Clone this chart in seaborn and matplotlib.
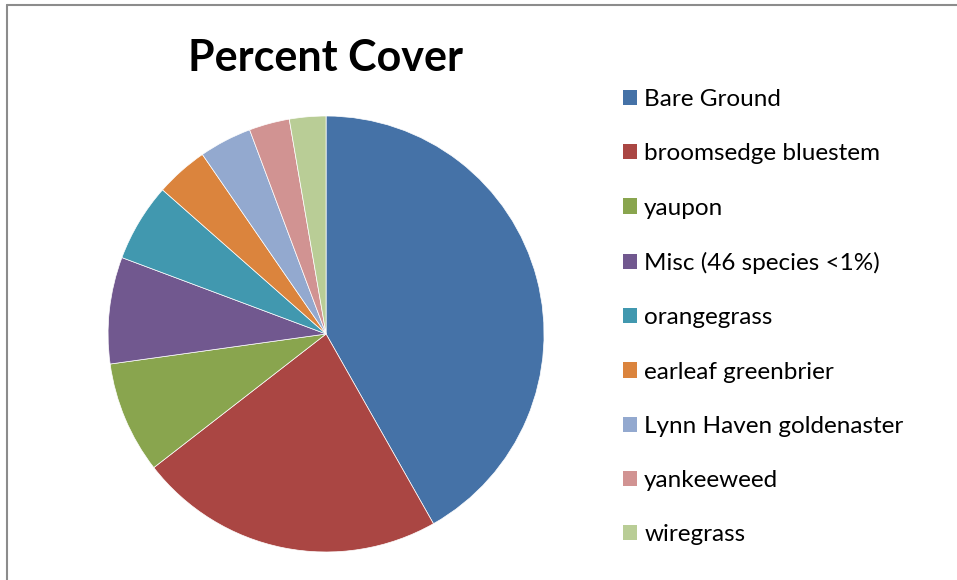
import matplotlib
matplotlib.use("Agg")
import matplotlib.pyplot as plt
from matplotlib.lines import Line2D
from matplotlib.patches import Rectangle
import seaborn as sns

# percent cover by category
species = ["Bare Ground", "broomsedge bluestem", "yaupon", "Misc (46 species <1%)",
           "orangegrass", "earleaf greenbrier", "Lynn Haven goldenaster",
           "yankeeweed", "wiregrass"]
cover = [41.8, 22.7, 8.3, 7.9, 5.8, 3.9, 3.9, 3.0, 2.7]
colors = ["#4572A7", "#AA4643", "#89A54E", "#71588F", "#4198AF",
          "#DB843D", "#93A9CF", "#D19392", "#B9CD96"]

sns.set_theme(style="white")
plt.rcParams["font.family"] = ["Lato", "DejaVu Sans"]
palette = sns.color_palette(colors)

fig = plt.figure(figsize=(9.57, 5.8), dpi=100)
ax = fig.add_axes([0.1129, 0.0483, 0.4556, 0.7517])
wedges, _ = ax.pie(cover, colors=palette, startangle=90, counterclock=False,
                   radius=1, wedgeprops=dict(linewidth=0.5, edgecolor="white"))
ax.set_xlim(-1, 1)
ax.set_ylim(-1, 1)
ax.set_aspect("equal")
ax.axis("off")

fig.text(325 / 957, 1 - 58 / 580, "Percent Cover", ha="center", va="center",
         fontsize=31, fontweight="bold", color="black")

handles = [Rectangle((0, 0), 1, 1, facecolor=c, edgecolor="none") for c in palette]
fig.legend(handles, species, loc="upper left", bbox_to_anchor=(623 / 957, 1 - 89 / 580),
           frameon=False, fontsize=17.5, handlelength=0.58, handleheight=0.58,
           handletextpad=0.29, labelspacing=1.37, borderpad=0, borderaxespad=0,
           labelcolor="black")

# chart-area border (top and left edges visible)
fig.add_artist(Line2D([7 / 957, 1], [1 - 5 / 580, 1 - 5 / 580], color="#8c8c8c", lw=1.5))
fig.add_artist(Line2D([7 / 957, 7 / 957], [0, 1 - 5 / 580], color="#8c8c8c", lw=1.5))

fig.savefig("out.png", dpi=100, facecolor="white")
